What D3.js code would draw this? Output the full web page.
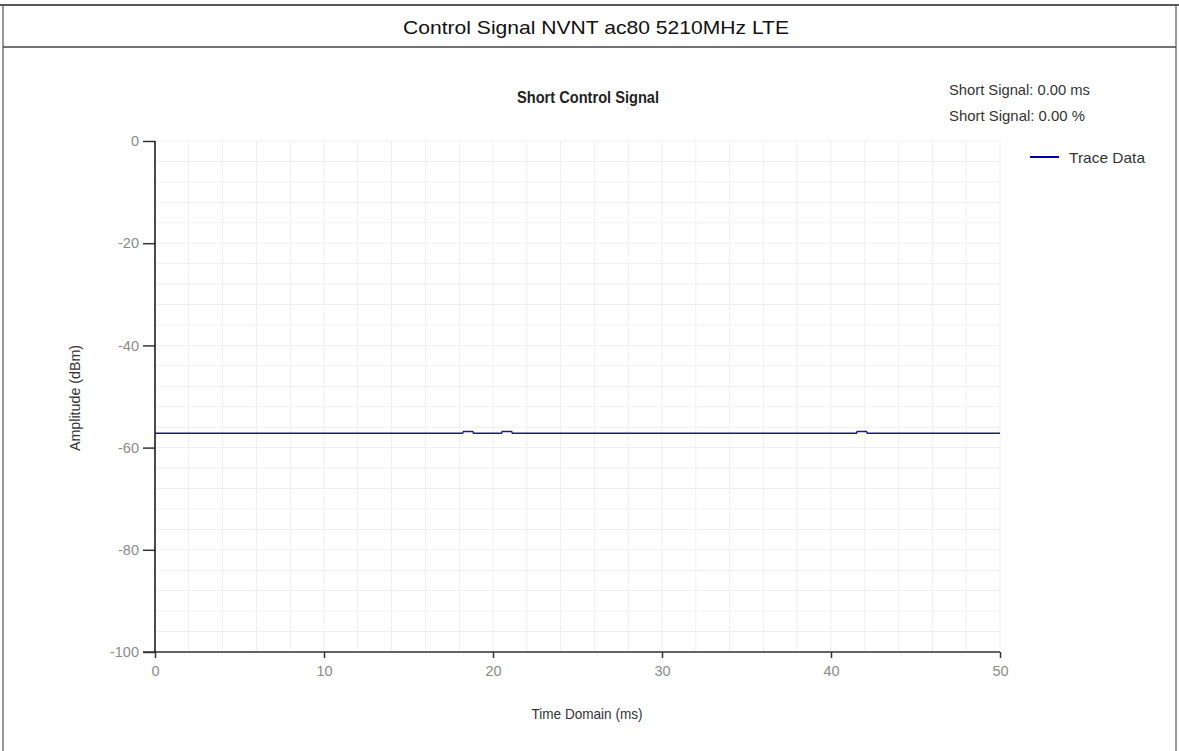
<!DOCTYPE html>
<html><head><meta charset="utf-8">
<script src="https://cdn.jsdelivr.net/npm/d3@7"></script>
<style>html,body{margin:0;padding:0;background:#fff;}svg{display:block;}</style>
</head><body>
<svg id="c" width="1179" height="751"></svg>
<script>
// ---- data ----
const pageTitle = "Control Signal NVNT ac80 5210MHz LTE";
const chartTitle = "Short Control Signal";
const infoLines = ["Short Signal: 0.00 ms", "Short Signal: 0.00 %"];
const seriesName = "Trace Data";
const xTicks = [0, 10, 20, 30, 40, 50];
const yTicks = [0, -20, -40, -60, -80, -100];
const traceTime = [0, 18.2, 18.25, 18.8, 18.85, 20.5, 20.55, 21.1, 21.15, 41.5, 41.55, 42.1, 42.15, 50];
const traceAmp  = [-57.2, -57.2, -56.85, -56.85, -57.2, -57.2, -56.85, -56.85, -57.2, -57.2, -56.85, -56.85, -57.2, -57.2];

// ---- layout ----
const svg = d3.select("#c");
const W = 1179, H = 751;
const font = "'Liberation Sans', Arial, sans-serif";
const x = d3.scaleLinear().domain([0, 50]).range([155, 1000]);
const y = d3.scaleLinear().domain([-100, 0]).range([652, 141]);
const fmt = d => String(d);

// page frame
svg.append("line").attr("x1", 0).attr("x2", W).attr("y1", 5).attr("y2", 5).attr("stroke", "#222").attr("stroke-width", 1.5);
svg.append("line").attr("x1", 3).attr("x2", 3).attr("y1", 5).attr("y2", H).attr("stroke", "#555").attr("stroke-width", 1.2);
svg.append("line").attr("x1", 1176).attr("x2", 1176).attr("y1", 5).attr("y2", H).attr("stroke", "#555").attr("stroke-width", 1.2);
svg.append("line").attr("x1", 3).attr("x2", 1176).attr("y1", 47).attr("y2", 47).attr("stroke", "#444").attr("stroke-width", 1.5);

svg.append("text").attr("x", 596).attr("y", 34).attr("text-anchor", "middle")
  .attr("font-family", font).attr("font-size", 18.5).attr("fill", "#111")
  .attr("textLength", 386).attr("lengthAdjust", "spacingAndGlyphs").text(pageTitle);

// grid
const g = svg.append("g");
g.selectAll("line.vg").data(d3.range(0, 50.01, 2)).join("line")
  .attr("x1", d => x(d)).attr("x2", d => x(d)).attr("y1", y(0)).attr("y2", y(-100))
  .attr("stroke", "#efefef").attr("stroke-width", 1);
g.selectAll("line.hg").data(d3.range(-100, 0.01, 4)).join("line")
  .attr("x1", x(0)).attr("x2", x(50)).attr("y1", d => y(d)).attr("y2", d => y(d))
  .attr("stroke", "#efefef").attr("stroke-width", 1);

// axes
const xAxis = d3.axisBottom(x).tickValues(xTicks).tickSize(6).tickPadding(8).tickFormat(fmt);
const xg = svg.append("g").attr("transform", `translate(0,${y(-100)})`).call(xAxis);
xg.select(".domain").remove();
xg.append("line").attr("x1", 143).attr("x2", x(50)).attr("y1", 0).attr("y2", 0).attr("stroke", "#333").attr("stroke-width", 1.5);
xg.selectAll(".tick line").attr("stroke", "#333").attr("stroke-width", 1.5);
xg.selectAll(".tick text").attr("font-family", font).attr("font-size", 14.5).attr("fill", "#8a8a8a");

const yAxis = d3.axisLeft(y).tickValues(yTicks).tickSize(12).tickPadding(4).tickFormat(fmt);
const yg = svg.append("g").attr("transform", `translate(${x(0)},0)`).call(yAxis);
yg.select(".domain").remove();
yg.append("line").attr("x1", 0).attr("x2", 0).attr("y1", y(0)).attr("y2", y(-100)).attr("stroke", "#111").attr("stroke-width", 1.5);
yg.selectAll(".tick line").attr("stroke", "#333").attr("stroke-width", 1.5);
yg.selectAll(".tick text").attr("font-family", font).attr("font-size", 14.5).attr("fill", "#8a8a8a");

// trace
const pts = traceTime.map((t, i) => [t, traceAmp[i]]);
svg.append("path").datum(pts)
  .attr("d", d3.line().x(d => x(d[0])).y(d => y(d[1])))
  .attr("fill", "none").attr("stroke", "#1c1c78").attr("stroke-width", 1.5);

// titles
svg.append("text").attr("x", 588).attr("y", 103).attr("text-anchor", "middle")
  .attr("font-family", font).attr("font-size", 17).attr("font-weight", "bold").attr("fill", "#222")
  .attr("textLength", 142).attr("lengthAdjust", "spacingAndGlyphs").text(chartTitle);

svg.append("text").attr("x", 587).attr("y", 719).attr("text-anchor", "middle")
  .attr("font-family", font).attr("font-size", 15).attr("fill", "#333")
  .attr("textLength", 111).attr("lengthAdjust", "spacingAndGlyphs").text("Time Domain (ms)");

svg.append("text").attr("transform", "translate(80,398) rotate(-90)").attr("text-anchor", "middle")
  .attr("font-family", font).attr("font-size", 15).attr("fill", "#333")
  .attr("textLength", 106).attr("lengthAdjust", "spacingAndGlyphs").text("Amplitude (dBm)");

// info text
svg.selectAll("text.info").data(infoLines).join("text")
  .attr("x", 949).attr("y", (d, i) => 95 + i * 26)
  .attr("font-family", font).attr("font-size", 15).attr("fill", "#333")
  .attr("textLength", (d, i) => i === 0 ? 141 : 136).attr("lengthAdjust", "spacingAndGlyphs")
  .text(d => d);

// legend
svg.append("line").attr("x1", 1030).attr("x2", 1059).attr("y1", 157).attr("y2", 157)
  .attr("stroke", "#00009c").attr("stroke-width", 2);
svg.append("text").attr("x", 1069).attr("y", 163)
  .attr("font-family", font).attr("font-size", 15).attr("fill", "#333")
  .attr("textLength", 76).attr("lengthAdjust", "spacingAndGlyphs").text(seriesName);
</script>
</body></html>
